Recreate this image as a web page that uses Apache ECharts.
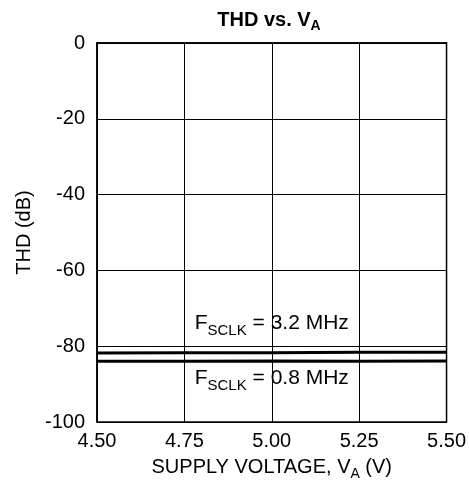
<!DOCTYPE html>
<html>
<head>
<meta charset="utf-8">
<script src="https://cdn.jsdelivr.net/npm/echarts@6/dist/echarts.min.js"></script>
<style>
html,body{margin:0;padding:0;background:#fff;}
#c{width:469px;height:487px;}
</style>
</head>
<body>
<div id="c"></div>
<script>
// Data
const supplyVoltage = [4.50, 4.75, 5.00, 5.25, 5.50];
const thd_3p2MHz = [-81.8, -81.7, -81.7, -81.6, -81.6];
const thd_0p8MHz = [-84.0, -84.0, -83.9, -84.0, -83.9];
const xTicks = [4.50, 4.75, 5.00, 5.25, 5.50];
const yTicks = [0, -20, -40, -60, -80, -100];
const labelPos = { s32: [5.0, -74.3], s08: [5.0, -88.8] };

const FONT = '"Liberation Sans", Arial, sans-serif';
const chart = echarts.init(document.getElementById('c'), null, { renderer: 'canvas' });

const subRich = {
  n: { fontSize: 20, fontFamily: FONT, color: '#000', verticalAlign: 'top', lineHeight: 22 },
  s: { fontSize: 14, fontFamily: FONT, color: '#000', verticalAlign: 'top', lineHeight: 15, padding: [10, 0, 0, 0] }
};
const labelRich = {
  n: { fontSize: 21, fontFamily: FONT, color: '#000', verticalAlign: 'top', lineHeight: 23 },
  s: { fontSize: 15, fontFamily: FONT, color: '#000', verticalAlign: 'top', lineHeight: 16, padding: [10, 0, 0, 0] }
};

function pairs(xs, ys) { return xs.map((x, i) => [x, ys[i]]); }

chart.setOption({
  animation: false,
  backgroundColor: '#fff',
  title: {
    text: '{n|THD vs. V}{s|A}',
    left: 264, textAlign: 'center', top: 5,
    textStyle: {
      rich: {
        n: { fontSize: 20, fontWeight: 'bold', fontFamily: FONT, color: '#000', verticalAlign: 'top', lineHeight: 22 },
        s: { fontSize: 14, fontWeight: 'bold', fontFamily: FONT, color: '#000', verticalAlign: 'top', lineHeight: 15, padding: [9, 0, 0, 0] }
      }
    }
  },
  grid: { left: 97, right: 22, top: 43, bottom: 65, show: true, borderColor: '#000', borderWidth: 1.5, backgroundColor: 'transparent' },
  xAxis: {
    type: 'value', min: xTicks[0], max: xTicks[xTicks.length - 1], interval: 0.25,
    axisLine: { show: true, lineStyle: { color: '#000', width: 1.5 } },
    axisTick: { show: false },
    splitLine: { show: true, lineStyle: { color: '#000', width: 1 } },
    axisLabel: { color: '#000', fontSize: 20, fontFamily: FONT, margin: 9, formatter: v => v.toFixed(2) },
    name: '{n|SUPPLY VOLTAGE, V}{s|A}{n| (V)}',
    nameLocation: 'middle', nameGap: 35,
    nameTextStyle: { rich: subRich }
  },
  yAxis: {
    type: 'value', min: yTicks[yTicks.length - 1], max: yTicks[0], interval: 20,
    axisLine: { show: true, lineStyle: { color: '#000', width: 1.5 } },
    axisTick: { show: false },
    splitLine: { show: true, lineStyle: { color: '#000', width: 1 } },
    axisLabel: { color: '#000', fontSize: 20, fontFamily: FONT, margin: 12 },
    name: 'THD (dB)', nameLocation: 'middle', nameGap: 56, nameRotate: 90,
    nameTextStyle: { color: '#000', fontSize: 20, fontFamily: FONT }
  },
  series: [
    {
      name: 'FSCLK = 3.2 MHz', type: 'line', data: pairs(supplyVoltage, thd_3p2MHz),
      showSymbol: false, lineStyle: { color: '#000', width: 3 }, z: 5,
      markPoint: {
        symbol: 'circle', symbolSize: 0,
        label: { show: true, position: 'inside', formatter: '{n|F}{s|SCLK}{n| = 3.2 MHz}', rich: labelRich },
        data: [{ coord: labelPos.s32 }]
      }
    },
    {
      name: 'FSCLK = 0.8 MHz', type: 'line', data: pairs(supplyVoltage, thd_0p8MHz),
      showSymbol: false, lineStyle: { color: '#000', width: 3 }, z: 5,
      markPoint: {
        symbol: 'circle', symbolSize: 0,
        label: { show: true, position: 'inside', formatter: '{n|F}{s|SCLK}{n| = 0.8 MHz}', rich: labelRich },
        data: [{ coord: labelPos.s08 }]
      }
    }
  ]
});
</script>
</body>
</html>
